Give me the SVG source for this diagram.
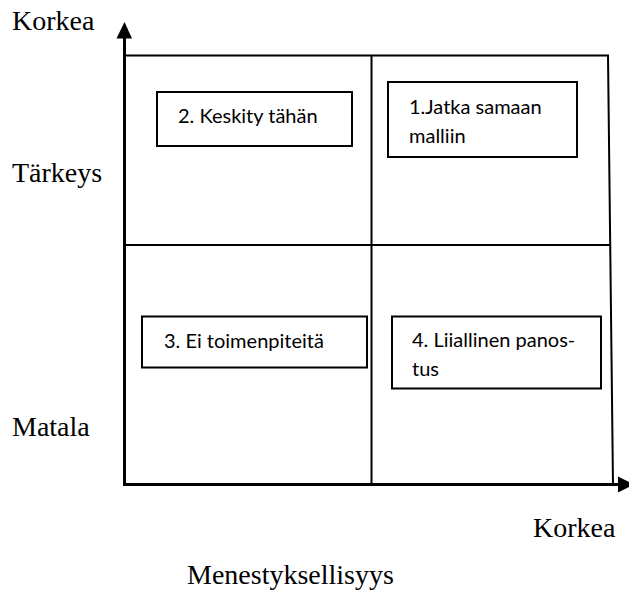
<svg xmlns="http://www.w3.org/2000/svg" width="629" height="597" viewBox="0 0 629 597">
<style>
.lbl{font-family:"Liberation Serif","Times New Roman",serif;font-size:28px;fill:#000}
.bx{fill:#fff;stroke:#000;stroke-width:2}
.bt{font-family:Lato,"Liberation Sans",sans-serif;font-size:20px;fill:#000}
.grid{stroke:#000;stroke-width:2;fill:none}
.axis{stroke:#000;stroke-width:3;fill:none}
</style>
<rect width="629" height="597" fill="#fff"/>
<g id="labels">
<text class="lbl" x="12" y="30">Korkea</text>
<text class="lbl" x="12" y="182">Tärkeys</text>
<text class="lbl" x="12" y="436">Matala</text>
<text class="lbl" x="533" y="537">Korkea</text>
<text class="lbl" x="187" y="584">Menestyksellisyys</text>
</g>
<g id="connectors">
<path class="grid" d="M125 55.5 H608 L613 485"/>
<path class="grid" d="M125 245 H610"/>
<path class="grid" d="M371.5 55.5 V485"/>
<path class="axis" d="M124.5 37 V486"/>
<polygon points="124.5,22 116.5,38.5 132,38.5" fill="#000"/>
<path class="axis" d="M123 484.5 H619"/>
<polygon points="618,476.5 618,492.5 634,484.5" fill="#000"/>
</g>
<g id="box2">
<rect class="bx" x="157" y="92" width="195" height="54"/>
<text class="bt" x="178" y="123">2. Keskity tähän</text>
</g>
<g id="box1">
<rect class="bx" x="388" y="82" width="189" height="75"/>
<text class="bt" x="409" y="114">1.Jatka samaan</text>
<text class="bt" x="409" y="143">malliin</text>
</g>
<g id="box3">
<rect class="bx" x="142" y="316.5" width="225" height="51"/>
<text class="bt" x="164" y="348">3. Ei toimenpiteitä</text>
</g>
<g id="box4">
<rect class="bx" x="392" y="316.5" width="209" height="72"/>
<text class="bt" x="412" y="347">4. Liiallinen panos-</text>
<text class="bt" x="412" y="376">tus</text>
</g>
</svg>
